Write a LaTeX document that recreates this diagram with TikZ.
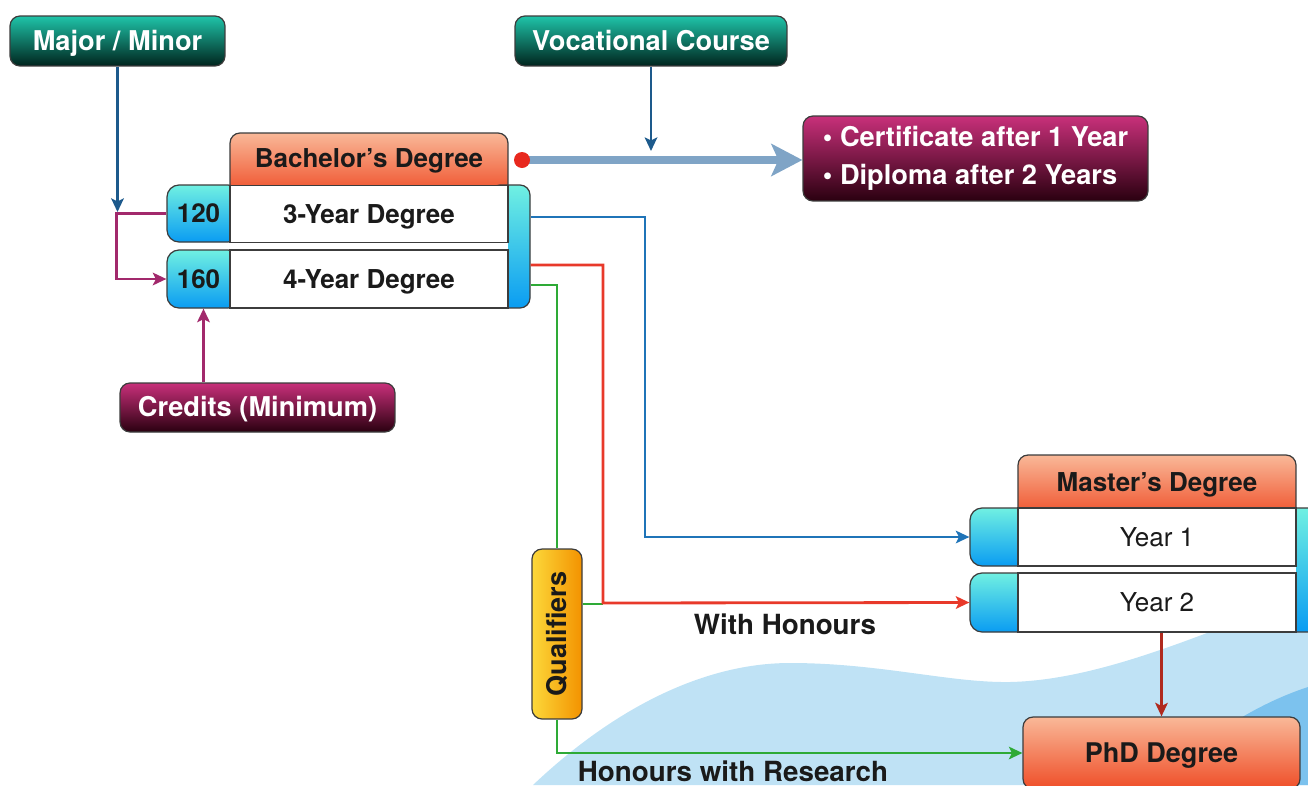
\documentclass[tikz,border=0pt]{standalone}
\usepackage{fontspec}
\usepackage{graphicx}
\setmainfont{TeX Gyre Heros}
\usetikzlibrary{arrows.meta}
\definecolor{edge}{HTML}{3C3C3C}
\definecolor{tealT}{HTML}{1FC4A9}
\definecolor{tealB}{HTML}{00241D}
\definecolor{magT}{HTML}{C8307A}
\definecolor{magB}{HTML}{2A0010}
\definecolor{orT}{HTML}{F9B898}
\definecolor{orB}{HTML}{EF4E28}
\definecolor{blT}{HTML}{70F0E2}
\definecolor{blB}{HTML}{0A9CF2}
\definecolor{quL}{HTML}{FCD83A}
\definecolor{quR}{HTML}{F39200}
\definecolor{navy}{HTML}{1D5A8C}
\definecolor{plum}{HTML}{A2296C}
\definecolor{steel}{HTML}{7FA4C6}
\definecolor{dotred}{HTML}{E8281E}
\definecolor{lnblue}{HTML}{1F74B8}
\definecolor{lnred}{HTML}{E8392A}
\definecolor{lngreen}{HTML}{2EAA36}
\definecolor{dred}{HTML}{B02A1E}
\definecolor{wave}{HTML}{BFE2F5}
\definecolor{wavedark}{HTML}{7CC2EE}
\definecolor{ink}{HTML}{1A1A1A}
\begin{document}
\begin{tikzpicture}[x=0.02cm,y=-0.02cm,
  capc/.style={text height=10.6pt, text depth=0pt},
  bx/.style={rounded corners=0.2cm, draw=edge, line width=0.7pt, inner sep=0pt, align=center},
  tealbox/.style={bx, capc, top color=tealT, bottom color=tealB, text=white, minimum height=1cm,
     font=\bfseries\fontsize{15.5}{18}\selectfont},
  magbox/.style={bx, top color=magT, bottom color=magB, text=white,
     font=\bfseries\fontsize{15.5}{21.5}\selectfont},
  orbox/.style={bx, top color=orT, bottom color=orB, text=ink,
     font=\bfseries\fontsize{15.2}{18}\selectfont},
  tabbox/.style={draw=edge, line width=0.7pt, rounded corners=0.24cm, top color=blT, bottom color=blB,
     inner sep=0pt, text=ink, capc, font=\bfseries\fontsize{14.8}{17}\selectfont},
  barbox/.style={draw=edge, line width=0.7pt, rounded corners=0.2cm, top color=blT, bottom color=blB, inner sep=0pt},
  bodybox/.style={draw=edge, line width=0.7pt, fill=white, inner sep=0pt, minimum width=5.56cm, text=ink, capc},
  hdtext/.style={text=ink, capc, font=\bfseries\fontsize{14.8}{17}\selectfont, inner sep=0pt},
  lbl/.style={text=ink, capc, font=\bfseries\fontsize{15.8}{18}\selectfont, inner sep=0pt},
  conn/.style={line width=1.6pt, -{Stealth[length=0.27cm,width=0.25cm,inset=0.06cm]}},
  plain/.style={line width=1.6pt}
]
\useasboundingbox (0,0) rectangle (1308,785);
% background waves
\fill[wave] (533,785) .. controls (610,712) and (700,663) .. (790,663)
  .. controls (880,663) and (950,683) .. (1010,682)
  .. controls (1100,680) and (1200,635) .. (1308,594) -- (1308,785) -- cycle;
\fill[wavedark] (1150,785) .. controls (1200,742) and (1250,706) .. (1308,687) -- (1308,785) -- cycle;

% top labels
\node[tealbox, minimum width=4.3cm] (major) at (117.5,41) {Major / Minor};
\node[tealbox, minimum width=5.44cm] (voc) at (651,41) {Vocational Course};

% Bachelor's degree block
\node[orbox, minimum width=5.56cm, minimum height=1.24cm] (bhead) at (369,164) {};
\node[hdtext] (bheadtxt) at (369,158) {Bachelor’s Degree};
\node[barbox, minimum width=0.8cm, minimum height=2.46cm] (bbar) at (510,246.5) {};
\fill[white] (488,242.8) rectangle (508.4,249.2);
\node[tabbox, minimum width=1.46cm, minimum height=1.14cm] (t120) at (203.5,213.5) {\makebox[1.26cm]{120}\kern0.2cm};
\node[tabbox, minimum width=1.46cm, minimum height=1.16cm] (t160) at (203.5,279) {\makebox[1.26cm]{160}\kern0.2cm};
\node[bodybox, minimum height=1.14cm, font=\bfseries\fontsize{14.8}{17}\selectfont] (b3) at (369,214) {3-Year Degree};
\node[bodybox, minimum height=1.16cm, font=\bfseries\fontsize{14.8}{17}\selectfont] (b4) at (369,279) {4-Year Degree};

% credits
\node[magbox, capc, minimum width=5.5cm, minimum height=0.98cm] (credits) at (257.5,407.5) {Credits (Minimum)};

% certificate box
\node[magbox, minimum width=6.9cm, minimum height=1.7cm, align=left] (cert) at (975.5,158.5)
  {\textbullet\ Certificate after 1 Year\\\textbullet\ Diploma after 2 Years};

% Master's degree block
\node[orbox, minimum width=5.56cm, minimum height=1.26cm] (mhead) at (1157,486.5) {};
\node[hdtext] (mheadtxt) at (1157,482) {Master’s Degree};
\node[barbox, minimum width=1cm, minimum height=2.48cm] (mbar) at (1305,570) {};
\fill[white] (1276,566.8) rectangle (1296.4,572.2);
\node[tabbox, minimum width=1.4cm, minimum height=1.16cm] (my1tab) at (1005,537) {};
\node[tabbox, minimum width=1.4cm, minimum height=1.18cm] (my2tab) at (1005,602.5) {};
\node[bodybox, minimum height=1.16cm, font=\fontsize{14.8}{17}\selectfont] (my1) at (1157,537) {Year 1};
\node[bodybox, minimum height=1.18cm, font=\fontsize{14.8}{17}\selectfont] (my2) at (1157,602.5) {Year 2};

% PhD
\node[orbox, capc, minimum width=5.54cm, minimum height=1.44cm, font=\bfseries\fontsize{15.4}{18}\selectfont] (phd) at (1161.5,753) {PhD Degree};

% Qualifiers
\node[bx, left color=quL, right color=quR, minimum width=1cm, minimum height=3.4cm,
  text=ink, font=\bfseries\fontsize{15.4}{18}\selectfont] (qual) at (557,634)
  {\rotatebox{90}{\rule[-0pt]{0pt}{10.9pt}Qualifiers}};

% labels
\node[lbl] (wh) at (785,625) {With Honours};
\node[lbl] (whr) at (733,772) {Honours with Research};

% connectors
\coordinate (mmend) at (117.5,212);
\draw[conn, navy] (major.south) -- (mmend);
\draw[conn, plum] (t120.west) -- ++(-50,0) |- (t160.west);
\draw[conn, plum] (credits.north -| t160.south) -- (t160.south);

\coordinate (vend) at (651,151);
\draw[conn, navy] (voc.south) -- (vend);
\draw[steel, line width=4.2pt, -{Stealth[length=0.62cm,width=0.64cm,inset=0.14cm]}] (522,160) -- (cert.west |- 0,160);
\node[circle, fill=dotred, minimum size=0.32cm, inner sep=0pt] (dot) at (522,160) {};

\draw[conn, lnblue] (bbar.east |- 0,217) -- (645,217) -- (645,537) -- (my1tab.west);
\draw[plain, lngreen] (bbar.east |- 0,285) -| (qual.north);
\draw[plain, lngreen] (qual.east |- 0,604) -- (603,604);
\draw[conn, lnred] (bbar.east |- 0,265) -- (603,265) -- (603,603) -- (my2tab.west);
\draw[conn, lngreen] (qual.south) |- (phd.west);
\draw[conn, dred] (my2.south -| phd.north) -- (phd.north);
\end{tikzpicture}
\end{document}
